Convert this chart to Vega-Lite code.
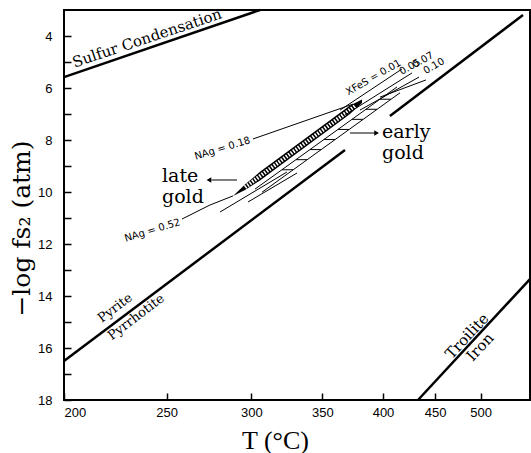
{
  "$schema": "https://vega.github.io/schema/vega-lite/v6.json",
  "width": 466,
  "height": 390,
  "autosize": "none",
  "padding": {"left": 64, "top": 10, "right": 1, "bottom": 53},
  "background": "white",
  "config": {
    "view": {"stroke": "black", "strokeWidth": 2},
    "font": "Liberation Sans"
  },
  "datasets": {
    "boundaries": [
      {"id": "sulfur", "o": 1, "K": 473.15, "v": 5.58},
      {"id": "sulfur", "o": 2, "K": 578.81, "v": 3.0},
      {"id": "pyrite_lo", "o": 1, "K": 473.15, "v": 16.5},
      {"id": "pyrite_lo", "o": 2, "K": 640.88, "v": 8.38},
      {"id": "pyrite_hi", "o": 1, "K": 679.4, "v": 7.08},
      {"id": "pyrite_hi", "o": 2, "K": 826.5, "v": 3.19},
      {"id": "troilite", "o": 1, "K": 705.9, "v": 18.0},
      {"id": "troilite", "o": 2, "K": 836.0, "v": 13.35}
    ],
    "thin": [
      {"id": "nag18", "o": 1, "K": 574.23, "v": 7.96},
      {"id": "nag18", "o": 2, "K": 647.42, "v": 6.62},
      {"id": "nag52", "o": 1, "K": 531.57, "v": 11.04},
      {"id": "nag52", "o": 2, "K": 547.61, "v": 10.5},
      {"id": "nag52", "o": 3, "K": 561.54, "v": 10.15},
      {"id": "x01", "o": 1, "K": 636.9, "v": 6.85},
      {"id": "x01", "o": 2, "K": 690.5, "v": 5.27},
      {"id": "x05", "o": 1, "K": 640.88, "v": 7.04},
      {"id": "x05", "o": 2, "K": 700.1, "v": 5.42},
      {"id": "x07", "o": 1, "K": 653.2, "v": 6.85},
      {"id": "x07", "o": 2, "K": 706.9, "v": 5.58},
      {"id": "x10", "o": 1, "K": 670.49, "v": 6.35},
      {"id": "x10", "o": 2, "K": 713.8, "v": 5.69},
      {"id": "U", "o": 1, "K": 575.53, "v": 9.89},
      {"id": "U", "o": 2, "K": 685.88, "v": 5.96},
      {"id": "D", "o": 1, "K": 580.13, "v": 10.01},
      {"id": "D", "o": 2, "K": 688.67, "v": 6.185},
      {"id": "r1", "o": 1, "K": 593.69, "v": 9.145},
      {"id": "r1", "o": 2, "K": 601.43, "v": 9.145},
      {"id": "r2", "o": 1, "K": 603.57, "v": 8.757},
      {"id": "r2", "o": 2, "K": 611.56, "v": 8.757},
      {"id": "r3", "o": 1, "K": 613.78, "v": 8.369},
      {"id": "r3", "o": 2, "K": 622.05, "v": 8.369},
      {"id": "r4", "o": 1, "K": 624.34, "v": 7.982},
      {"id": "r4", "o": 2, "K": 632.9, "v": 7.982},
      {"id": "r5", "o": 1, "K": 635.27, "v": 7.594},
      {"id": "r5", "o": 2, "K": 644.13, "v": 7.594},
      {"id": "r6", "o": 1, "K": 646.59, "v": 7.206},
      {"id": "r6", "o": 2, "K": 655.77, "v": 7.206},
      {"id": "r7", "o": 1, "K": 658.32, "v": 6.818},
      {"id": "r7", "o": 2, "K": 667.84, "v": 6.818},
      {"id": "r8", "o": 1, "K": 670.49, "v": 6.431},
      {"id": "r8", "o": 2, "K": 680.37, "v": 6.431},
      {"id": "f2", "o": 1, "K": 553.58, "v": 10.77},
      {"id": "f2", "o": 2, "K": 597.19, "v": 9.23},
      {"id": "f3", "o": 1, "K": 571.0, "v": 10.385},
      {"id": "f3", "o": 2, "K": 604.29, "v": 9.27},
      {"id": "arrowLate", "o": 1, "K": 564.03, "v": 9.538},
      {"id": "arrowLate", "o": 2, "K": 548.5, "v": 9.538},
      {"id": "arrowEarly", "o": 1, "K": 644.95, "v": 7.731},
      {"id": "arrowEarly", "o": 2, "K": 666.0, "v": 7.731}
    ],
    "band": [
      {"K": 561.54, "v": 10.154, "v2": 10.154},
      {"K": 569.08, "v": 9.712, "v2": 9.923},
      {"K": 578.81, "v": 9.223, "v2": 9.554},
      {"K": 644.95, "v": 6.673, "v2": 7.004},
      {"K": 654.93, "v": 6.442, "v2": 6.577}
    ],
    "bandDots": [
      {"K": 569.08, "v": 9.815},
      {"K": 649.07, "v": 6.70}
    ],
    "headLeft": [{"K": 547.0, "v": 9.538}],
    "headRight": [{"K": 667.5, "v": 7.731}],
    "sulfurLabel": [{"K": 512.79, "v": 4.08, "text": "Sulfur Condensation"}],
    "pyriteLabels": [
      {"K": 496.75, "v": 14.46, "text": "Pyrite"},
      {"K": 507.16, "v": 14.81, "text": "Pyrrhotite"}
    ],
    "troiliteLabels": [
      {"K": 757.46, "v": 15.54, "text": "Troilite"},
      {"K": 772.44, "v": 15.96, "text": "Iron"}
    ],
    "goldLabels": [
      {"K": 520.67, "v": 9.615, "text": "late\ngold"},
      {"K": 672.26, "v": 7.923, "text": "early\ngold"}
    ],
    "nagLabels": [
      {"K": 572.29, "v": 8.0, "text": "NAg = 0.18"},
      {"K": 530.46, "v": 11.15, "text": "NAg = 0.52"}
    ],
    "xfesLabels": [
      {"K": 664.78, "v": 5.596, "text": "XFeS = 0.01"},
      {"K": 698.13, "v": 5.19, "text": "0.05"},
      {"K": 710.83, "v": 4.923, "text": "0.07"},
      {"K": 721.94, "v": 5.154, "text": "0.10"}
    ]
  },
  "encoding": {
    "x": {
      "field": "K",
      "type": "quantitative",
      "scale": {"type": "pow", "exponent": -1, "domain": [473.15, 836], "zero": false, "nice": false},
      "axis": {
        "values": [473.15, 523.15, 573.15, 623.15, 673.15, 723.15, 773.15],
        "labelExpr": "format(datum.value - 273.15, '.0f')",
        "title": "T (°C)",
        "grid": false,
        "domain": false,
        "tickSize": -7,
        "tickWidth": 1.5,
        "tickColor": "black",
        "labelPadding": 13,
        "labelFont": "Liberation Sans",
        "labelFontSize": 13,
        "labelColor": "black",
        "labelFlush": true,
        "labelOverlap": false,
        "titleFont": "Liberation Serif",
        "titleFontSize": 26,
        "titleFontWeight": "normal",
        "titleColor": "black",
        "titleX": 211,
        "titleY": 48,
        "titleBaseline": "alphabetic",
        "titleAlign": "center"
      }
    },
    "y": {
      "field": "v",
      "type": "quantitative",
      "scale": {"domain": [3, 18], "reverse": true, "zero": false, "nice": false},
      "axis": {
        "values": [4, 5, 6, 7, 8, 9, 10, 11, 12, 13, 14, 15, 16, 17, 18],
        "labelExpr": "datum.value % 2 == 0 ? datum.label : ''",
        "title": "−log   fs₂ (atm)",
        "grid": false,
        "domain": false,
        "tickSize": -7,
        "tickWidth": 1.5,
        "tickColor": "black",
        "labelPadding": 19,
        "labelFont": "Liberation Sans",
        "labelFontSize": 13,
        "labelColor": "black",
        "labelOverlap": false,
        "titleFont": "DejaVu Serif",
        "titleFontSize": 25,
        "titleFontWeight": "normal",
        "titleColor": "black",
        "titleX": -35,
        "titleY": 218,
        "titleAngle": -90,
        "titleBaseline": "alphabetic",
        "titleAlign": "center"
      }
    }
  },
  "layer": [
    {
      "data": {"name": "band"},
      "mark": {"type": "area", "color": "black", "opacity": 1},
      "encoding": {"y2": {"field": "v2"}}
    },
    {
      "data": {"name": "bandDots"},
      "mark": {"type": "line", "color": "white", "strokeWidth": 4, "strokeDash": [1.5, 1.5]},
      "encoding": {}
    },
    {
      "data": {"name": "boundaries"},
      "mark": {"type": "line", "color": "black", "strokeWidth": 2.5, "strokeCap": "butt"},
      "encoding": {"detail": {"field": "id"}, "order": {"field": "o"}}
    },
    {
      "data": {"name": "thin"},
      "mark": {"type": "line", "color": "black", "strokeWidth": 1},
      "encoding": {"detail": {"field": "id"}, "order": {"field": "o"}}
    },
    {
      "data": {"name": "headLeft"},
      "mark": {"type": "point", "shape": "triangle-left", "filled": true, "color": "black", "size": 30, "opacity": 1}
    },
    {
      "data": {"name": "headRight"},
      "mark": {"type": "point", "shape": "triangle-right", "filled": true, "color": "black", "size": 30, "opacity": 1}
    },
    {
      "data": {"name": "sulfurLabel"},
      "mark": {"type": "text", "font": "DejaVu Serif", "fontSize": 15, "angle": -18.5, "align": "center", "baseline": "middle", "color": "black"},
      "encoding": {"text": {"field": "text"}}
    },
    {
      "data": {"name": "pyriteLabels"},
      "mark": {"type": "text", "font": "DejaVu Serif", "fontSize": 13, "angle": -37, "align": "center", "baseline": "middle", "color": "black"},
      "encoding": {"text": {"field": "text"}}
    },
    {
      "data": {"name": "troiliteLabels"},
      "mark": {"type": "text", "font": "DejaVu Serif", "fontSize": 15, "angle": -47, "align": "center", "baseline": "middle", "color": "black"},
      "encoding": {"text": {"field": "text"}}
    },
    {
      "data": {"name": "goldLabels"},
      "mark": {"type": "text", "font": "DejaVu Serif", "fontSize": 19, "align": "left", "baseline": "alphabetic", "lineBreak": "\n", "lineHeight": 21, "color": "black"},
      "encoding": {"text": {"field": "text"}}
    },
    {
      "data": {"name": "nagLabels"},
      "mark": {"type": "text", "font": "DejaVu Sans", "fontSize": 10, "angle": -17, "align": "right", "baseline": "middle", "color": "black"},
      "encoding": {"text": {"field": "text"}}
    },
    {
      "data": {"name": "xfesLabels"},
      "mark": {"type": "text", "font": "DejaVu Sans", "fontSize": 10, "angle": -30, "align": "center", "baseline": "middle", "color": "black"},
      "encoding": {"text": {"field": "text"}}
    }
  ]
}
